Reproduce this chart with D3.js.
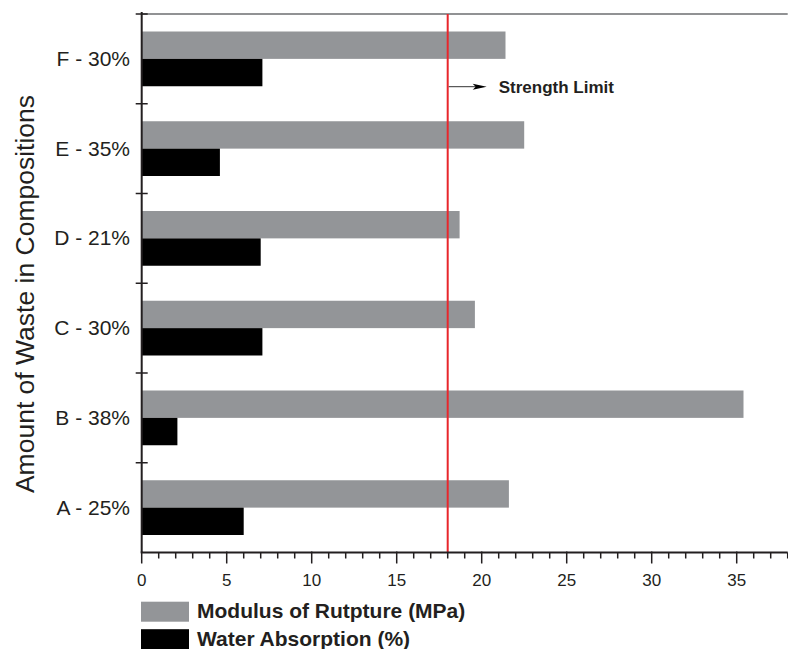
<!DOCTYPE html>
<html>
<head>
<meta charset="utf-8">
<script src="https://cdn.jsdelivr.net/npm/d3@7"></script>
<style>
  html, body { margin: 0; padding: 0; background: #fff; }
  svg { display: block; font-family: "Liberation Sans", Arial, Helvetica, sans-serif; }
</style>
</head>
<body>
<svg id="chart" width="788" height="649"></svg>
<script>
// Compositions, listed top to bottom
const categories = ["F - 30%", "E - 35%", "D - 21%", "C - 30%", "B - 38%", "A - 25%"];
// Modulus of rupture (MPa) per composition
const modulusValues = [21.4, 22.5, 18.7, 19.6, 35.4, 21.6];
// Water absorption (%) per composition
const absorptionValues = [7.1, 4.6, 7.0, 7.1, 2.1, 6.0];
const seriesNames = ["Modulus of Rutpture (MPa)", "Water Absorption (%)"];
const seriesColors = ["#939598", "#000000"];
const xMajorTicks = [0, 5, 10, 15, 20, 25, 30, 35];
const strengthLimit = 18;
const strengthLabel = "Strength Limit";
const yTitle = "Amount of Waste in Compositions";

const svg = d3.select("#chart");
const plotLeft = 141.7, plotRight = 787.7, plotTop = 14, plotBottom = 552.5;
const ink = "#231f20";

const x = d3.scaleLinear().domain([0, 38]).range([plotLeft, plotRight]);
const y = d3.scaleBand().domain(categories).range([plotTop, plotBottom])
  .paddingInner(0.39).paddingOuter(0.195);
const sub = d3.scaleBand().domain(seriesNames).range([0, y.bandwidth()]);

const rows = categories.map((c, i) => ({ cat: c, values: [modulusValues[i], absorptionValues[i]] }));

// top frame line
svg.append("line")
  .attr("x1", plotLeft).attr("x2", plotRight).attr("y1", plotTop).attr("y2", plotTop)
  .attr("stroke", "#6d6e71").attr("stroke-width", 1.5);

// bars
const groups = svg.append("g").selectAll("g").data(rows).join("g")
  .attr("transform", d => `translate(0,${y(d.cat)})`);
groups.selectAll("rect")
  .data(d => d.values.map((v, j) => ({ v, name: seriesNames[j], color: seriesColors[j] })))
  .join("rect")
  .attr("x", x(0))
  .attr("y", d => sub(d.name))
  .attr("width", d => x(d.v) - x(0))
  .attr("height", sub.bandwidth())
  .attr("fill", d => d.color);

// strength limit line
svg.append("line")
  .attr("x1", x(strengthLimit)).attr("x2", x(strengthLimit))
  .attr("y1", plotTop).attr("y2", plotBottom)
  .attr("stroke", "#e8262b").attr("stroke-width", 2);

// arrow pointing to label
const arrowY = 86.7;
svg.append("line")
  .attr("x1", x(strengthLimit) + 1).attr("x2", x(strengthLimit) + 30)
  .attr("y1", arrowY).attr("y2", arrowY)
  .attr("stroke", "#333").attr("stroke-width", 1);
const ax = x(strengthLimit) + 39;
svg.append("path")
  .attr("d", `M${ax},${arrowY} L${ax - 14},${arrowY - 3} L${ax - 11},${arrowY} L${ax - 14},${arrowY + 3} Z`)
  .attr("fill", "#000");
svg.append("text")
  .attr("x", x(strengthLimit) + 51).attr("y", arrowY + 6)
  .attr("font-size", 17).attr("font-weight", "bold").attr("fill", ink)
  .text(strengthLabel);

// x axis
const xAxis = svg.append("g");
xAxis.append("line")
  .attr("x1", plotLeft - 1).attr("x2", plotRight).attr("y1", plotBottom).attr("y2", plotBottom)
  .attr("stroke", ink).attr("stroke-width", 2);
const minor = d3.range(0, 39, 1).filter(v => v % 5 !== 0);
xAxis.selectAll("line.minor").data(minor).join("line").attr("class", "minor")
  .attr("x1", d => x(d)).attr("x2", d => x(d))
  .attr("y1", plotBottom).attr("y2", plotBottom + 6)
  .attr("stroke", ink).attr("stroke-width", 1.5);
xAxis.selectAll("line.major").data(xMajorTicks).join("line").attr("class", "major")
  .attr("x1", d => x(d)).attr("x2", d => x(d))
  .attr("y1", plotBottom - 1).attr("y2", plotBottom + 11)
  .attr("stroke", ink).attr("stroke-width", 1.5);
xAxis.selectAll("text").data(xMajorTicks).join("text")
  .attr("x", d => x(d)).attr("y", 586)
  .attr("text-anchor", "middle").attr("font-size", 17).attr("fill", ink)
  .text(d => d);

// y axis
const yAxis = svg.append("g");
yAxis.append("line")
  .attr("x1", plotLeft).attr("x2", plotLeft).attr("y1", plotTop - 2).attr("y2", plotBottom)
  .attr("stroke", ink).attr("stroke-width", 2);
const half = y.step() * y.paddingInner() / 2;
const boundaries = categories.map(c => y(c) - half);
yAxis.selectAll("line.tick").data(boundaries).join("line").attr("class", "tick")
  .attr("x1", plotLeft - 6).attr("x2", plotLeft + 6)
  .attr("y1", d => d).attr("y2", d => d)
  .attr("stroke", ink).attr("stroke-width", 1.5);
yAxis.selectAll("text").data(categories).join("text")
  .attr("x", 130).attr("y", d => y(d) + y.bandwidth() / 2 + 7)
  .attr("text-anchor", "end").attr("font-size", 21).attr("fill", ink)
  .text(d => d);

// y axis title
svg.append("text")
  .attr("transform", `translate(34,294) rotate(-90)`)
  .attr("text-anchor", "middle").attr("font-size", 26.5).attr("fill", ink)
  .text(yTitle);

// legend
const legend = svg.append("g").selectAll("g").data(seriesNames).join("g")
  .attr("transform", (d, i) => `translate(141,${601.7 + i * 27.5})`);
legend.append("rect").attr("width", 48).attr("height", 20)
  .attr("fill", (d, i) => seriesColors[i]);
legend.append("text").attr("x", 56).attr("y", 16.5)
  .attr("font-size", 21).attr("font-weight", "bold").attr("fill", ink)
  .text(d => d);
</script>
</body>
</html>
